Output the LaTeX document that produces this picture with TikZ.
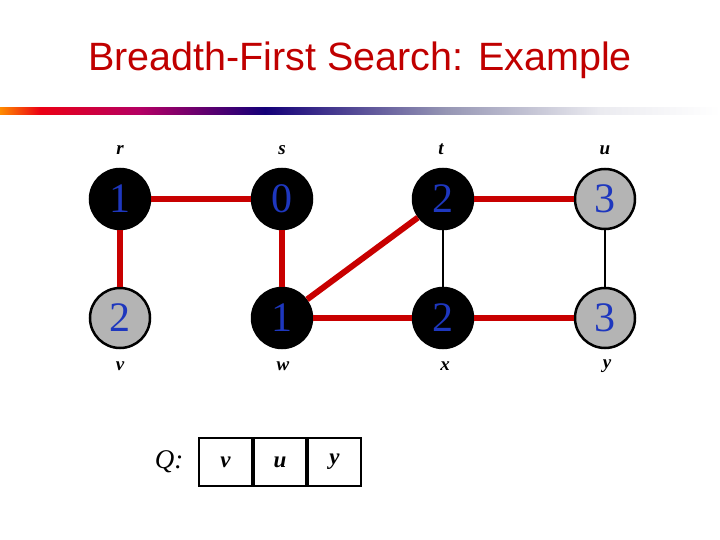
\documentclass[tikz,border=0pt]{standalone}
\usepackage{fontspec}
\setmainfont{Liberation Serif}
\newfontfamily\titlefont{Liberation Sans}
\definecolor{titlered}{RGB}{192,0,0}
\definecolor{edgered}{RGB}{200,0,0}
\definecolor{numblue}{RGB}{30,55,190}
\definecolor{graynode}{RGB}{180,180,180}
\definecolor{gorange}{RGB}{255,140,0}
\definecolor{gred}{RGB}{235,0,20}
\definecolor{gmag}{RGB}{180,0,100}
\definecolor{gnavy}{RGB}{20,0,120}
\definecolor{ggray}{RGB}{150,150,180}
\definecolor{glight}{RGB}{235,235,240}
\pgfdeclarehorizontalshading{titlebar}{100bp}{color(0bp)=(gorange); color(25bp)=(gorange); color(27.8bp)=(gred); color(34.7bp)=(gmag); color(43.4bp)=(gnavy); color(56bp)=(ggray); color(66.7bp)=(glight); color(75bp)=(white); color(100bp)=(white)}
\tikzset{
  vert/.style={circle, draw=black, line width=2.5pt, minimum size=60pt, inner sep=0pt, text=numblue, font=\fontsize{42}{42}\selectfont},
  blk/.style={vert, fill=black},
  gry/.style={vert, fill=graynode},
  lab/.style={font=\fontsize{19}{19}\selectfont\bfseries\itshape},
  tree/.style={draw=edgered, line width=6pt},
  plain/.style={draw=black, line width=2pt},
  qcell/.style={draw=black, line width=2pt, minimum width=52.5pt, minimum height=48pt, inner sep=0pt, font=\fontsize{23}{23}\selectfont\bfseries\itshape}
}
\begin{document}
\begin{tikzpicture}[x=1pt,y=-1pt]
\useasboundingbox (0,0) rectangle (720,540);
\node[font=\titlefont\fontsize{39.5}{39.5}\selectfont, text=titlered] (title) at (360,60) {Breadth-First Search: Example};
\shade[shading=titlebar] (0,107.5) rectangle (720,114.5);
% vertices
\node[blk] (r) at (120,199) {1};
\node[blk] (s) at (282,199) {0};
\node[blk] (t) at (443,199) {2};
\node[gry] (u) at (605,199) {3};
\node[gry] (v) at (120,318) {2};
\node[blk] (w) at (282,318) {1};
\node[blk] (x) at (443,318) {2};
\node[gry] (y) at (605,318) {3};
% labels
\node[lab] (lr) at (120,150) {r};
\node[lab] (ls) at (282,150) {s};
\node[lab] (lt) at (441,149) {t};
\node[lab] (lu) at (605,150) {u};
\node[lab] (lv) at (120,366) {v};
\node[lab] (lw) at (283,366) {w};
\node[lab] (lx) at (445,366) {x};
\node[lab] (ly) at (607,366) {y};
% edges
\draw[plain] (t) -- (x);
\draw[plain] (u) -- (y);
\draw[tree] (r) -- (s);
\draw[tree] (r) -- (v);
\draw[tree] (s) -- (w);
\draw[tree] (w) -- (t);
\draw[tree] (w) -- (x);
\draw[tree] (t) -- (u);
\draw[tree] (x) -- (y);
% queue
\node[font=\fontsize{27}{27}\selectfont\itshape] (q) at (169,462) {Q:};
\node[qcell] (q1) at (225.5,462) {v};
\node[qcell] (q2) at (280,462) {u};
\node[qcell] (q3) at (334.5,462) {y};
\end{tikzpicture}
\end{document}
